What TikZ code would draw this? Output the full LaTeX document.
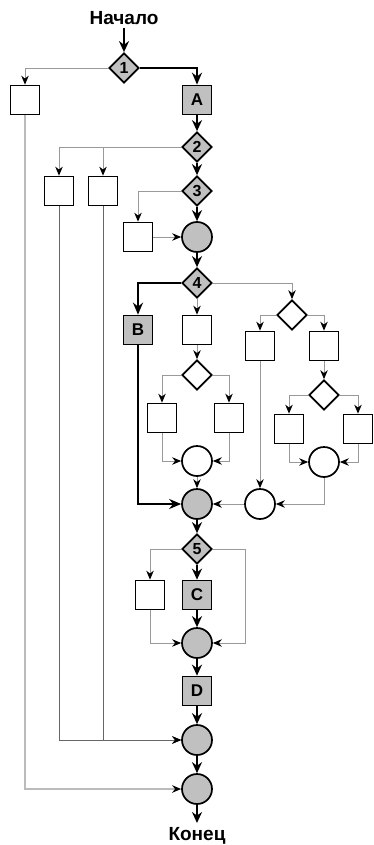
\documentclass[tikz,border=0pt]{standalone}
\usepackage{fontspec}
\setmainfont{Liberation Sans}
\usetikzlibrary{shapes.geometric,arrows.meta}
\definecolor{boxgray}{HTML}{C0C0C0}
\definecolor{linegray}{HTML}{999999}
\definecolor{darkline}{HTML}{666666}
\definecolor{lightline}{HTML}{BBBBBB}
\tikzset{
  dia/.style={diamond,draw=black,line width=1.7pt,minimum width=30pt,minimum height=30pt,inner sep=0pt,aspect=1,font=\bfseries\fontsize{16}{16}\selectfont},
  gdia/.style={dia,fill=boxgray},
  wdia/.style={dia,fill=white},
  bx/.style={rectangle,draw=black,line width=1.7pt,minimum width=29pt,minimum height=29pt,inner sep=0pt,fill=white,font=\bfseries\fontsize{17}{17}\selectfont},
  gbx/.style={bx,fill=boxgray},
  circ/.style={circle,draw=black,line width=1.7pt,minimum size=30pt,inner sep=0pt,fill=white},
  gcirc/.style={circ,fill=boxgray},
  lbl/.style={font=\bfseries\fontsize{19}{19}\selectfont},
  main/.style={draw=black,line width=2pt,-{Stealth[length=11pt,width=10pt]}},
  heavy/.style={draw=black,line width=2.8pt,-{Stealth[length=12pt,width=10pt]}},
  thinl/.style={draw=linegray,line width=0.9pt,-{Stealth[length=9pt,width=7.5pt,color=black]}},
  darkl/.style={draw=darkline,line width=0.9pt,-{Stealth[length=9pt,width=7.5pt,color=black]}},
  lightl/.style={draw=lightline,line width=2pt,-{Stealth[length=9pt,width=7.5pt,color=black]}},
}
\begin{document}
\begin{tikzpicture}[x=1pt,y=-1pt]
\useasboundingbox (0,0) rectangle (374,845);
% nodes
\node[lbl] (start) at (124,18) {Начало};
\node[gdia] (d1) at (124,68) {1};
\node[bx] (b1) at (25,100) {};
\node[gbx] (A) at (197,100) {A};
\node[gdia] (d2) at (197,147) {2};
\node[bx] (b2a) at (59,191) {};
\node[bx] (b2b) at (103,191) {};
\node[gdia] (d3) at (197,191) {3};
\node[bx] (b3) at (138,237) {};
\node[gcirc] (c1) at (197,237) {};
\node[gdia] (d4) at (197,283) {4};
\node[gbx] (B) at (138,330) {B};
\node[bx] (b4) at (197,330) {};
\node[wdia] (d4r) at (292,315) {};
\node[bx] (b4rl) at (260,346) {};
\node[bx] (b4rr) at (324,346) {};
\node[wdia] (d4rr) at (324,395) {};
\node[bx] (b4rrl) at (289,429) {};
\node[bx] (b4rrr) at (358,429) {};
\node[circ] (cw2) at (324,462) {};
\node[wdia] (d4m) at (197,375) {};
\node[bx] (b4ml) at (162,418) {};
\node[bx] (b4mr) at (229,418) {};
\node[circ] (cw1) at (197,461) {};
\node[gcirc] (c2) at (197,504) {};
\node[circ] (cw3) at (260,504) {};
\node[gdia] (d5) at (197,549) {5};
\node[bx] (b5) at (150,595) {};
\node[gbx] (C) at (197,595) {C};
\coordinate (r5) at (245,549);
\node[gcirc] (c3) at (197,643) {};
\node[gbx] (D) at (197,691) {D};
\node[gcirc] (c4) at (197,740) {};
\node[gcirc] (c5) at (197,789) {};
\node[lbl] (fin) at (197,836) {Конец};
\coordinate (endtip) at (197,823);
% main black arrows
\draw[main] (start) -- (d1);
\draw[main] (A) -- (d2);
\draw[main] (d2) -- (d3);
\draw[main] (d3) -- (c1);
\draw[main] (c1) -- (d4);
\draw[main] (c2) -- (d5);
\draw[main] (d5) -- (C);
\draw[main] (C) -- (c3);
\draw[main] (c3) -- (D);
\draw[main] (D) -- (c4);
\draw[main] (c4) -- (c5);
\draw[main] (c5) -- (endtip);
% heavy path
\draw[heavy] (d1.east) -| (A);
\draw[heavy] (d4.west) -| (B);
\draw[heavy] (B) |- (c2);
% thin branches
\draw[thinl] (d1.west) -| (b1);
\draw[lightl] (b1) |- (c5);
\draw[thinl] (d2.west) -| (b2a);
\draw[thinl] (d2.west) -| (b2b);
\draw[darkl] (b2a) |- (c4);
\draw[darkl] (b2b) |- (c4);
\draw[thinl] (d3.west) -| (b3);
\draw[thinl] (b3) -- (c1);
\draw[thinl] (d4) -- (b4);
\draw[thinl] (b4) -- (d4m);
\draw[thinl] (d4m.west) -| (b4ml);
\draw[thinl] (d4m.east) -| (b4mr);
\draw[thinl] (b4ml) |- (cw1);
\draw[thinl] (b4mr) |- (cw1);
\draw[thinl] (cw1) -- (c2);
\draw[thinl] (d4.east) -| (d4r);
\draw[thinl] (d4r.west) -| (b4rl);
\draw[thinl] (d4r.east) -| (b4rr);
\draw[thinl] (b4rr) -- (d4rr);
\draw[thinl] (d4rr.west) -| (b4rrl);
\draw[thinl] (d4rr.east) -| (b4rrr);
\draw[thinl] (b4rrl) |- (cw2);
\draw[thinl] (b4rrr) |- (cw2);
\draw[thinl] (b4rl) -- (cw3);
\draw[thinl] (cw2) |- (cw3);
\draw[thinl] (cw3) -- (c2);
\draw[thinl] (d5.west) -| (b5);
\draw[thinl] (b5) |- (c3);
\draw[thinl] (d5.east) -- (r5) |- (c3);
\end{tikzpicture}
\end{document}
